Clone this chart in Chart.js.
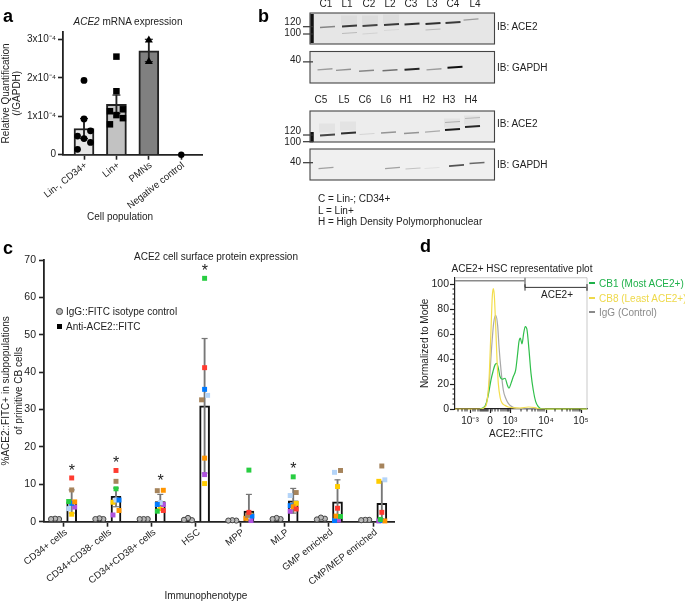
<!DOCTYPE html>
<html>
<head>
<meta charset="utf-8">
<script src="https://cdn.jsdelivr.net/npm/chart.js@4"></script>
<style>
  html, body { margin: 0; padding: 0; background: #fff; }
  #page { position: relative; width: 685px; height: 601px; overflow: hidden; }
  #page canvas { position: absolute; filter: blur(0.3px); }
  .t { position: absolute; white-space: nowrap; color: #222; font: 10px "Liberation Sans", Arial, sans-serif; }
</style>
</head>
<body>
<div id="page"></div>
<script>
// --- panel a: mRNA, values in units of 1e-4
const mrnaLabels = ["Lin-, CD34+", "Lin+", "PMNs", "Negative control"];
const mrnaTicksX = [0, 1, 2, 3];
const mrnaTicksY = [0, 1, 2, 3];
const mrnaMeans = [0.68, 1.31, 2.7];
const mrnaErrLow = [0.42, 1.07, 2.42];
const mrnaErrHigh = [0.94, 1.55, 3.0];
const linCd34X = [0, 0, -0.2, 0, 0.2, 0.2, -0.2];
const linCd34Y = [1.93, 0.93, 0.485, 0.42, 0.62, 0.32, 0.14];
const linPlusX = [1, 1, 0.8, 1.2, 1, 1.2, 0.8];
const linPlusY = [2.55, 1.65, 1.13, 1.18, 1.03, 0.95, 0.79];
const pmnX = [2, 2];
const pmnY = [2.98, 2.42];
const negX = [3];
const negY = [0];

// --- panel c: surface protein, one array per cord blood donor, one value per population
const popLabels = ["CD34+ cells", "CD34+CD38- cells", "CD34+CD38+ cells", "HSC", "MPP", "MLP", "GMP enriched", "CMP/MEP enriched"];
const popTicksX = [0, 1, 2, 3, 4, 5, 6, 7];
const popTicksY = [0, 10, 20, 30, 40, 50, 60, 70];
const antiMeans = [5.3, 6.8, 5.4, 31, 2.85, 5.6, 5.3, 4.9];
const antiErrLow = [2.3, 4.0, 3.5, 13, 0, 2.3, 0, 0];
const antiErrHigh = [8.5, 9.0, 7.3, 49, 7.3, 8.9, 11.2, 10.8];
const donorRed = [11.7, 13.7, 3.0, 41.2, 2.5, 3.4, 3.6, 2.5];
const donorBrown = [8.5, 10.8, 8.3, 32.6, 1.7, 7.8, 13.7, 14.9];
const donorGreen = [5.4, 8.8, 2.8, 65.1, 13.8, 12.0, 1.4, 0.6];
const donorOrange = [5.3, 3.0, 8.4, 17, 0.9, 4.0, 1.5, 0.2];
const donorBlue = [4.9, 5.8, 4.6, 35.4, 1.5, 4.3, 0.3, 0.3];
const donorLight = [3.5, 5.8, 5.1, 33.8, 1.3, 7.0, 13.2, 11.2];
const donorPurple = [3.9, 1.8, 4.6, 12.6, 0.3, 2.8, 0.45, 0.2];
const donorYellow = [2.0, 5.2, 3.5, 10.2, 1.7, 4.9, 9.4, 10.8];
const jitterRed = [0, 0, 1, 0, 0, 1, 0, 0];
const jitterBrown = [0, 0, -1, -1, -0.5, 1, 1, 0];
const jitterGreen = [-1, 0, -1, 0, 0, 0, 1, -0.5];
const jitterOrange = [1, 1, 1, 0, -1, 0, -0.5, 1];
const jitterBlue = [0, 1, -1, 0, 1, -1, -1, 0];
const jitterLight = [-1, 0, 0, 1, -0.3, -1, -1, 1];
const jitterPurple = [1, -1, 1, 0, 0.7, -1, 0.3, -1];
const jitterYellow = [0, -1, 0, 0, 0.7, 1, 0, -1];
const iggLeft = [0.7, 0.7, 0.7, 0.5, 0.3, 0.7, 0.6, 0.4];
const iggMid = [0.8, 0.9, 0.7, 1.0, 0.4, 1.0, 1.1, 0.5];
const iggRight = [0.7, 0.7, 0.7, 0.4, 0.3, 0.7, 0.8, 0.5];
const starPops = [0, 1, 2, 3, 5];
const starY = [14.2, 16.3, 11.4, 67.6, 14.7];

// --- panel d: histogram, x in display channels of the biexponential axis
const fitcTickX = [15, 35, 55, 91, 126];
const fitcTickLabels = ["10⁻³", "0", "10³", "10⁴", "10⁵"];
const fitcMinorX = [3, 7, 10, 12, 18, 20, 23, 25, 26, 27, 28, 29, 30, 31, 32, 33, 37, 40, 43, 46, 48, 50, 52, 53, 54, 66, 72, 77, 80, 83, 85, 87, 89, 100, 107, 112, 115, 118, 120, 122, 124, 125];
const modeTicksY = [0, 20, 40, 60, 80, 100];
const modeMinorY = [4, 8, 12, 16, 24, 28, 32, 36, 44, 48, 52, 56, 64, 68, 72, 76, 84, 88, 92, 96];
const cb1X = [25, 28.3, 30.7, 33.3, 36, 38, 40, 41.7, 43.3, 45, 47.3, 50, 52.3, 54, 56, 58.3, 60.7, 62.7, 64, 65.3, 67, 68.7, 70.3, 72, 74, 76, 78.3, 80.7, 83.3, 86.7, 132];
const cb1Y = [0, 1.1, 3.2, 11.2, 23.3, 30, 35.3, 36.6, 32.7, 26, 23.8, 24.6, 19.3, 16.6, 20.5, 26, 31.3, 44.7, 54, 56.7, 52.1, 60.7, 66, 63.4, 47.3, 28.5, 15, 5.9, 1.9, 0, 0];
const cb8X = [0, 25, 29.3, 32, 34, 36, 37.3, 38.3, 39.3, 40.7, 42, 43.3, 45.3, 47.3, 50, 53.3, 56.7, 65, 73.3, 80, 85, 132];
const cb8Y = [0, 0, 1.1, 5.9, 23.3, 63.4, 90, 96.3, 91, 66, 39.6, 20.5, 8.6, 4.5, 2.9, 1.6, 1.1, 0.8, 1.6, 1.1, 0, 0];
const iggX = [25, 29.3, 32, 34, 36.7, 38.7, 40.7, 42.7, 44, 46, 48.3, 50.7, 53.3, 56.7, 61.7, 90];
const iggY = [0, 1.3, 7.2, 17.9, 50, 69, 75, 66.3, 50, 31.3, 15.2, 8.6, 4.5, 1.9, 0.5, 0];
const gateAllX = [0, 70];
const gateAllY = 102.6;
const gatePosX = [70, 132];
const gatePosY = 97.3;

// --- panel b: blots, band position across (x) and down (y) the membrane, strength 0..1
const topLanes = ["C1", "L1", "C2", "L2", "C3", "L3", "C4", "L4"];
const topLaneX = [16, 37, 59, 80, 101, 122, 143, 165];
const lowLanes = ["C5", "L5", "C6", "L6", "H1", "H2", "H3", "H4"];
const lowLaneX = [11, 34, 55, 76, 96, 119, 139, 161];
const blot1BandX = [17.5, 39.5, 60, 81.5, 102, 123, 143, 161, 39.5, 60, 81.5, 123];
const blot1BandY = [14, 13, 12.5, 11.5, 11, 10.5, 9.5, 6.5, 20, 20.5, 17, 16.5];
const blot1Strength = [0.45, 0.8, 0.75, 0.8, 0.85, 0.85, 0.8, 0.35, 0.2, 0.1, 0.08, 0.2];
const blot2BandX = [15, 33.5, 56.5, 80, 102, 124, 145];
const blot2BandY = [17.5, 18, 19, 18.5, 17.5, 17.5, 15.5];
const blot2Strength = [0.35, 0.4, 0.45, 0.55, 0.9, 0.35, 1];
const blot3BandX = [17.5, 38.5, 57, 78.5, 101.5, 122.5, 142.5, 162.5, 142.5, 162.5];
const blot3BandY = [24, 22, 23, 21.5, 22, 20.5, 18.5, 15.5, 11, 7];
const blot3Strength = [0.75, 0.85, 0.12, 0.4, 0.4, 0.3, 0.95, 0.9, 0.25, 0.2];
const blot4BandX = [16, 82.5, 103, 122, 146.5, 167];
const blot4BandY = [19, 19, 19.5, 19, 16.5, 14];
const blot4Strength = [0.35, 0.35, 0.2, 0.08, 0.7, 0.6];
const blot1SmearX = [39, 60, 81];
const blot1SmearY = [7, 7, 6];
const blot3SmearX = [17, 38, 142, 162];
const blot3SmearY = [17, 15, 12, 9];
const blot1Ladder = [1, 30];
const blot3Ladder = [21, 31];
const blot1Weights = ["120", "100"];
const blot1WeightY = [9.7, 20];
const blot1MarkY = [13.7, 21];
const blot2Weights = ["40"];
const blot2WeightY = [8.8];
const blot2MarkY = [10.2];
const blot3Weights = ["120", "100"];
const blot3WeightY = [20, 31];
const blot3MarkY = [24, 30.7];
const blot4Weights = ["40"];
const blot4WeightY = [13];
const blot4MarkY = [13.7];

const INK = "#222";
const page = document.getElementById("page");
Chart.defaults.font.family = '"Liberation Sans", Arial, sans-serif';
Chart.defaults.font.size = 10;
Chart.defaults.color = INK;
Chart.defaults.animation = false;

function addCanvas(x, y, w, h) {
    const c = document.createElement("canvas");
    c.width = w;
    c.height = h;
    c.style.left = x + "px";
    c.style.top = y + "px";
    page.appendChild(c);
    return c;
}

// html text, x/y is the centre unless left is set
function addText(html, x, y, opts = {}) {
    const d = document.createElement("div");
    d.className = "t";
    d.innerHTML = html;
    d.style.left = x + "px";
    d.style.top = y + "px";
    if (opts.size) d.style.fontSize = opts.size + "px";
    if (opts.bold) d.style.fontWeight = "bold";
    if (opts.color) d.style.color = opts.color;
    d.style.transform = opts.left ? "translateY(-50%)" : "translate(-50%,-50%)";
    page.appendChild(d);
}

const fitY = (w) => (s) => { s.width = w; s.paddingTop = 0; s.paddingBottom = 0; };
const fitX = (h) => (s) => { s.height = h; s.paddingLeft = 0; s.paddingRight = 0; };
const useTicks = (values) => (s) => { s.ticks = values.map((v) => ({ value: v })); };

function points(xs, ys, extra) {
    return Object.assign({
        type: "scatter",
        data: xs.map((x, i) => ({ x, y: ys[i] })),
        clip: false,
        borderWidth: 0,
        order: 1,
    }, extra);
}

// stem as a thin floating bar, caps as line markers
function errorSets(xs, lows, highs, color, stem, capR) {
    const caps = xs.flatMap((x, i) => [{ x, y: lows[i] }, { x, y: highs[i] }]).filter((p) => p.y > 0);
    return [
        {
            type: "bar",
            data: xs.map((x, i) => ({ x, y: [lows[i], highs[i]] })),
            barThickness: stem,
            grouped: false,
            backgroundColor: color,
            order: 2,
        },
        {
            type: "scatter",
            data: caps,
            clip: false,
            pointStyle: "line",
            pointRadius: capR,
            pointBorderColor: color,
            pointBorderWidth: 1.2,
            order: 2,
        },
    ];
}

const axisBase = {
    border: { color: INK, width: 1.8 },
    grid: { drawOnChartArea: false, offset: false, color: INK, tickColor: INK, tickWidth: 1.6, tickLength: 5 },
    offset: false,
};

// a ---------------------------------------------------------------------------------
new Chart(addCanvas(0, 0, 260, 235), {
    type: "scatter",
    data: {
        datasets: [
            points(linCd34X, linCd34Y, { pointStyle: "circle", pointRadius: 3.4, backgroundColor: "#000" }),
            points(linPlusX, linPlusY, { pointStyle: "rect", pointRadius: 4.6, backgroundColor: "#000" }),
            points(pmnX, pmnY, { pointStyle: "triangle", pointRadius: 4.6, backgroundColor: "#000" }),
            points(negX, negY, { pointStyle: "circle", pointRadius: 3.2, backgroundColor: "#000" }),
            ...errorSets(mrnaTicksX.slice(0, 3), mrnaErrLow, mrnaErrHigh, INK, 1.2, 4),
            {
                type: "bar",
                data: mrnaMeans.map((v, i) => ({ x: mrnaTicksX[i], y: v })),
                barThickness: 20,
                grouped: false,
                backgroundColor: ["#e6e6e6", "#c2c2c2", "#808080"],
                borderColor: INK,
                borderWidth: 2,
                order: 3,
            },
        ],
    },
    options: {
        responsive: false,
        layout: { padding: { top: 32, right: 58 } },
        plugins: { legend: { display: false }, tooltip: { enabled: false } },
        scales: {
            x: Object.assign({}, axisBase, {
                type: "linear", min: -0.648, max: 3.64,
                afterFit: fitX(80.3),
                afterBuildTicks: useTicks(mrnaTicksX),
                ticks: { autoSkip: false, minRotation: 38, maxRotation: 38, padding: 0, labelOffset: 2, font: { size: 9.6 }, callback: (v, i) => mrnaLabels[i] },
            }),
            y: Object.assign({}, axisBase, {
                type: "linear", min: 0, max: 3.19,
                afterFit: fitY(63),
                afterBuildTicks: useTicks(mrnaTicksY),
                ticks: { padding: 2, callback: (v) => (v === 0 ? "0" : v + "x10⁻⁴") },
                title: { display: true, text: ["Relative Quantification", "(/GAPDH)"], padding: { top: 1, bottom: 0 }, font: { size: 10, lineHeight: 1.1 } },
            }),
        },
    },
});

// c ---------------------------------------------------------------------------------
const antiX = popTicksX.map((v) => v + 0.195);
const iggCentre = popTicksX.map((v) => v - 0.18);
const donors = [
    [donorRed, jitterRed, "#ff3b30"],
    [donorBrown, jitterBrown, "#a6845c"],
    [donorGreen, jitterGreen, "#28cd41"],
    [donorOrange, jitterOrange, "#ff9500"],
    [donorBlue, jitterBlue, "#007aff"],
    [donorLight, jitterLight, "#b4d4f8"],
    [donorPurple, jitterPurple, "#af52de"],
    [donorYellow, jitterYellow, "#ffcc00"],
];
const starLabels = {
    id: "starLabels",
    afterDatasetsDraw(chart) {
        const { ctx, scales } = chart;
        ctx.save();
        ctx.fillStyle = INK;
        ctx.font = '16px "Liberation Sans", Arial, sans-serif';
        ctx.textAlign = "center";
        ctx.textBaseline = "middle";
        starPops.forEach((p, i) => {
            ctx.fillText("*", scales.x.getPixelForValue(p + 0.2), scales.y.getPixelForValue(starY[i]) + 3);
        });
        ctx.restore();
    },
};
new Chart(addCanvas(-1, 250, 411, 351), {
    type: "scatter",
    data: {
        datasets: [
            ...donors.map(([vals, jit, color]) => points(antiX.map((x, i) => x + jit[i] * 0.068), vals, {
                pointStyle: "rect", pointRadius: 3.5, backgroundColor: color,
            })),
            ...[[iggLeft, -0.09], [iggMid, 0], [iggRight, 0.09]].map(([vals, dx]) => points(iggCentre.map((x) => x + dx), vals, {
                pointStyle: "circle", pointRadius: 2.6, backgroundColor: "#b8b8b8", borderColor: "#444", borderWidth: 1,
            })),
            ...errorSets(antiX, antiErrLow, antiErrHigh, "#777", 1.2, 3),
            {
                type: "bar",
                data: antiMeans.map((v, i) => ({ x: antiX[i], y: v })),
                barThickness: 10,
                grouped: false,
                backgroundColor: "#fff",
                borderColor: "#111",
                borderWidth: 2,
                order: 3,
            },
        ],
    },
    plugins: [starLabels],
    options: {
        responsive: false,
        layout: { padding: { top: 10, right: 16 } },
        plugins: { legend: { display: false }, tooltip: { enabled: false } },
        scales: {
            x: Object.assign({}, axisBase, {
                type: "linear", min: -0.43, max: 7.47,
                afterFit: fitX(79.3),
                afterBuildTicks: useTicks(popTicksX),
                ticks: { autoSkip: false, minRotation: 38, maxRotation: 38, padding: 0, labelOffset: 3, font: { size: 9.6 }, callback: (v, i) => popLabels[i] },
            }),
            y: Object.assign({}, axisBase, {
                type: "linear", min: 0, max: 70,
                afterFit: fitY(45),
                afterBuildTicks: useTicks(popTicksY),
                ticks: { padding: 3, font: { size: 10.5 } },
                title: { display: true, text: ["%ACE2::FITC+ in subpopulations", "of primitive CB cells"], padding: { top: 1, bottom: 0 }, font: { size: 10, lineHeight: 1.25 } },
            }),
        },
    },
});

// d ---------------------------------------------------------------------------------
const minorTicks = {
    id: "minorTicks",
    afterDraw(chart) {
        const { ctx, scales, chartArea } = chart;
        ctx.save();
        ctx.strokeStyle = INK;
        ctx.lineWidth = 1;
        ctx.beginPath();
        fitcMinorX.forEach((v) => {
            const x = scales.x.getPixelForValue(v);
            ctx.moveTo(x, chartArea.bottom);
            ctx.lineTo(x, chartArea.bottom + 2.5);
        });
        modeMinorY.forEach((v) => {
            const y = scales.y.getPixelForValue(v);
            ctx.moveTo(chartArea.left, y);
            ctx.lineTo(chartArea.left - 2.5, y);
        });
        ctx.stroke();
        ctx.strokeStyle = "#bbb";
        ctx.lineWidth = 0.8;
        ctx.beginPath();
        ctx.moveTo(chartArea.left, chartArea.top);
        ctx.lineTo(chartArea.right, chartArea.top);
        ctx.lineTo(chartArea.right, chartArea.bottom);
        ctx.stroke();
        ctx.restore();
    },
};
function curve(xs, ys, color) {
    return {
        type: "line",
        data: xs.map((x, i) => ({ x, y: ys[i] })),
        borderColor: color,
        borderWidth: 1.2,
        pointRadius: 0,
        cubicInterpolationMode: "monotone",
        clip: false,
    };
}
function gate(xs, y, both, color, width) {
    const t = 2.6;
    const start = both ? [{ x: xs[0], y: y - t }, { x: xs[0], y: y + t }, { x: xs[0], y }] : [{ x: xs[0], y }];
    return {
        type: "line",
        data: [...start, { x: xs[1], y }, { x: xs[1], y: y + t }, { x: xs[1], y: y - t }],
        borderColor: color,
        borderWidth: width,
        pointRadius: 0,
        clip: false,
    };
}
new Chart(addCanvas(410, 270, 190, 170), {
    type: "scatter",
    data: {
        datasets: [
            gate(gateAllX, gateAllY, false, "#8a8a8a", 1.6),
            gate(gatePosX, gatePosY, true, "#333", 1),
            curve(cb8X, cb8Y, "#f3de4d"),
            curve(cb1X, cb1Y, "#2fbf4a"),
            curve(iggX, iggY, "#a8a8a8"),
        ],
    },
    plugins: [minorTicks],
    options: {
        responsive: false,
        layout: { padding: { top: 7.75, right: 13 } },
        plugins: { legend: { display: false }, tooltip: { enabled: false } },
        scales: {
            x: Object.assign({}, axisBase, {
                type: "linear", min: 0, max: 132,
                border: { color: INK, width: 1.2 },
                grid: Object.assign({}, axisBase.grid, { tickWidth: 1.2, tickLength: 4 }),
                afterFit: fitX(31),
                afterBuildTicks: useTicks(fitcTickX),
                ticks: { autoSkip: false, maxRotation: 0, padding: 2, callback: (v, i) => fitcTickLabels[i] },
            }),
            y: Object.assign({}, axisBase, {
                type: "linear", min: 0, max: 105,
                border: { color: INK, width: 1.2 },
                grid: Object.assign({}, axisBase.grid, { tickWidth: 1.2, tickLength: 5 }),
                afterFit: fitY(45),
                afterBuildTicks: useTicks(modeTicksY),
                ticks: { padding: 1, font: { size: 10.5 } },
                title: { display: true, text: "Normalized to Mode", padding: { top: 9.5, bottom: 0 }, font: { size: 10 } },
            }),
        },
    },
});

// b ---------------------------------------------------------------------------------
const blotFrame = {
    id: "blotFrame",
    beforeDraw(chart, args, opts) {
        const { ctx, chartArea: a } = chart;
        ctx.save();
        ctx.fillStyle = opts.fill;
        ctx.fillRect(a.left, a.top, a.width, a.height);
        ctx.restore();
    },
    afterDraw(chart) {
        const { ctx, chartArea: a } = chart;
        ctx.save();
        ctx.strokeStyle = "#444";
        ctx.lineWidth = 1.1;
        ctx.strokeRect(a.left, a.top, a.width, a.height);
        ctx.restore();
    },
};
function blot(cfg) {
    const sets = [
        {
            type: "scatter",
            data: cfg.bandX.map((x, i) => ({ x, y: cfg.bandY[i] })),
            pointStyle: "line",
            pointRadius: 7.5,
            pointRotation: -4,
            pointBorderWidth: cfg.strength.map((s) => 0.8 + 1.4 * s),
            pointBorderColor: cfg.strength.map((s) => `rgba(15,15,15,${s})`),
            order: 1,
        },
        {
            // molecular weight markers sit across the left edge of the membrane
            type: "scatter",
            data: cfg.markY.map((y) => ({ x: -2, y })),
            clip: false,
            pointStyle: "line",
            pointRadius: 5,
            pointBorderWidth: 1.2,
            pointBorderColor: "#333",
            order: 0,
        },
    ];
    if (cfg.smearX) {
        sets.push({
            type: "scatter",
            data: cfg.smearX.map((x, i) => ({ x, y: cfg.smearY[i] })),
            pointStyle: "line",
            pointRadius: 8,
            pointBorderWidth: 9,
            pointBorderColor: "rgba(0,0,0,0.04)",
            order: 3,
        });
    }
    if (cfg.ladder) {
        sets.push({
            type: "line",
            data: cfg.ladder.map((y) => ({ x: 2, y })),
            borderColor: "#111",
            borderWidth: 3.5,
            pointRadius: 0,
            order: 2,
        });
    }
    new Chart(addCanvas(280, cfg.y, 220, cfg.top + 31.5 + 8 - cfg.y), {
        type: "scatter",
        data: { datasets: sets },
        plugins: [blotFrame],
        options: {
            responsive: false,
            layout: { autoPadding: false, padding: { right: 5.5, bottom: 8 } },
            plugins: { legend: { display: false }, tooltip: { enabled: false }, blotFrame: { fill: cfg.fill } },
            scales: {
                x: {
                    type: "linear", position: "top", min: 0, max: 184.5,
                    display: !!cfg.labels,
                    border: { display: false },
                    grid: { display: false, drawTicks: false },
                    afterFit: fitX(cfg.top - cfg.y),
                    afterBuildTicks: useTicks(cfg.laneX || []),
                    ticks: { autoSkip: false, maxRotation: 0, padding: cfg.lanePad || 0, callback: (v, i) => (cfg.labels ? cfg.labels[i] : "") },
                },
                y: {
                    type: "linear", min: 0, max: 31, reverse: true,
                    border: { display: false },
                    grid: { drawOnChartArea: false, drawTicks: false },
                    afterFit: fitY(30),
                    afterBuildTicks: useTicks(cfg.weightY),
                    ticks: { padding: 9, callback: (v, i) => cfg.weights[i] },
                },
            },
        },
    });
}
blot({ y: 0, top: 13, labels: topLanes, laneX: topLaneX, lanePad: 3, bandX: blot1BandX, bandY: blot1BandY, strength: blot1Strength, smearX: blot1SmearX, smearY: blot1SmearY, ladder: blot1Ladder, weightY: blot1WeightY, markY: blot1MarkY, weights: blot1Weights, fill: "#e6e6e6" });
blot({ y: 46, top: 51.5, bandX: blot2BandX, bandY: blot2BandY, strength: blot2Strength, weightY: blot2WeightY, markY: blot2MarkY, weights: blot2Weights, fill: "#e9e9e9" });
blot({ y: 92, top: 111, labels: lowLanes, laneX: lowLaneX, lanePad: 5, bandX: blot3BandX, bandY: blot3BandY, strength: blot3Strength, smearX: blot3SmearX, smearY: blot3SmearY, ladder: blot3Ladder, weightY: blot3WeightY, markY: blot3MarkY, weights: blot3Weights, fill: "#ededed" });
blot({ y: 144, top: 149, bandX: blot4BandX, bandY: blot4BandY, strength: blot4Strength, weightY: blot4WeightY, markY: blot4MarkY, weights: blot4Weights, fill: "#f0f0f0" });

// text around the charts ------------------------------------------------------------
addText("a", 3, 16, { left: true, size: 18, bold: true, color: "#000" });
addText("b", 258, 16, { left: true, size: 18, bold: true, color: "#000" });
addText("c", 3, 248, { left: true, size: 18, bold: true, color: "#000" });
addText("d", 420, 246, { left: true, size: 18, bold: true, color: "#000" });

addText("<i>ACE2</i> mRNA expression", 128, 20.5);
addText("Cell population", 120, 215.5);

addText("IB: ACE2", 497, 26, { left: true });
addText("IB: GAPDH", 497, 66.7, { left: true });
addText("IB: ACE2", 497, 122.7, { left: true });
addText("IB: GAPDH", 497, 163.7, { left: true });
addText("C = Lin-; CD34+", 318, 198, { left: true });
addText("L = Lin+", 318, 209.7, { left: true });
addText("H = High Density Polymorphonuclear", 318, 221, { left: true });

addText("ACE2 cell surface protein expression", 216, 256);
addText("IgG::FITC isotype control", 66, 311, { left: true });
addText("Anti-ACE2::FITC", 66, 326, { left: true });
addText("Immunophenotype", 206, 595);

addText("ACE2+ HSC representative plot", 522, 268);
addText("ACE2+", 557, 294);
addText("CB1 (Most ACE2+)", 599, 283, { left: true, color: "#1fb14a" });
addText("CB8 (Least ACE2+)", 599, 298, { left: true, color: "#eed94a" });
addText("IgG (Control)", 599, 312, { left: true, color: "#8a8a8a" });
addText("ACE2::FITC", 516, 433);

// legend keys are plain blocks next to the text
function addKey(x, y, w, h, bg, extra) {
    const d = document.createElement("div");
    d.style.cssText = `position:absolute;left:${x}px;top:${y}px;width:${w}px;height:${h}px;background:${bg};${extra || ""}`;
    page.appendChild(d);
}
addKey(56, 308, 4.5, 4.5, "#b8b8b8", "border:1px solid #444;border-radius:50%");
addKey(57, 323.5, 5, 5, "#000");
addKey(589, 282, 6, 1.6, "#1fb14a");
addKey(589, 297, 6, 1.6, "#eed94a");
addKey(589, 311, 6, 1.6, "#8a8a8a");
</script>
</body>
</html>
